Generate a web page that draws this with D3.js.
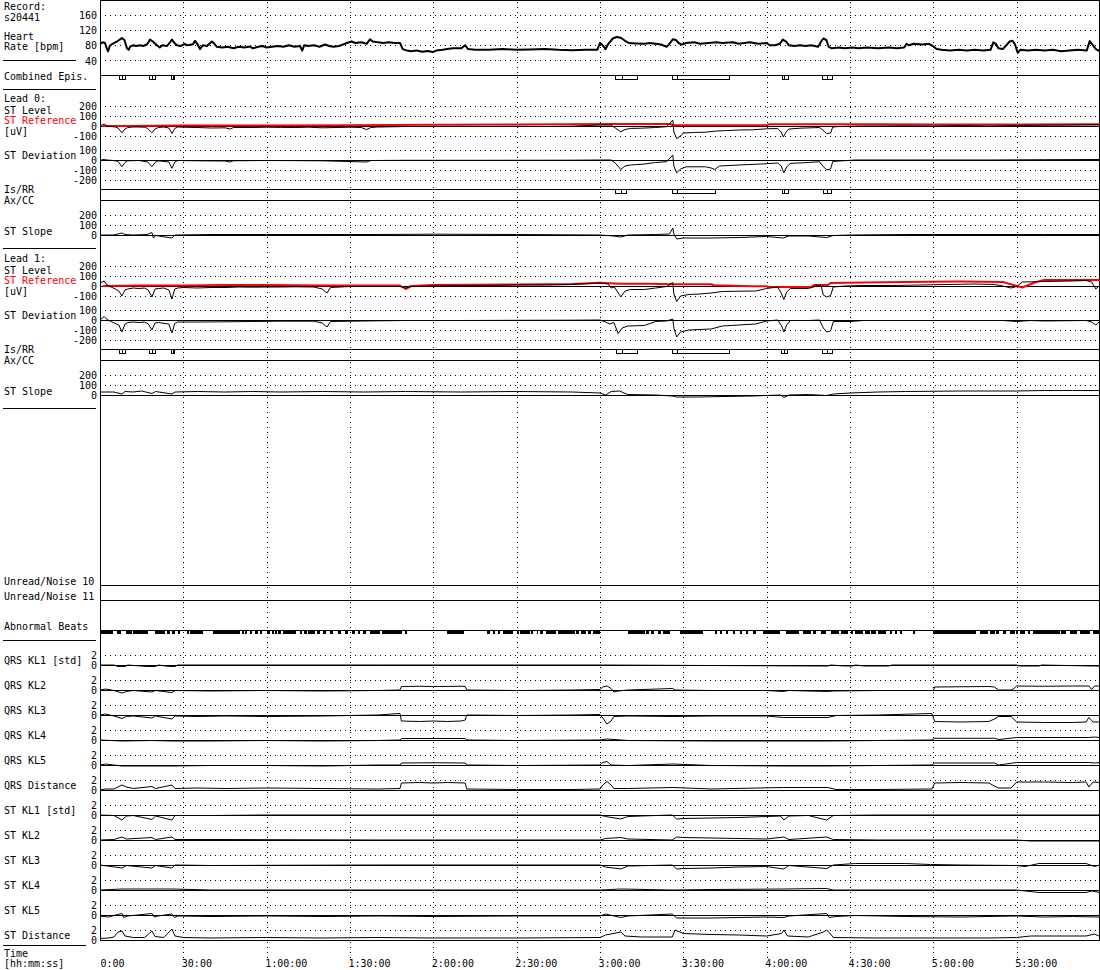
<!DOCTYPE html>
<html><head><meta charset="utf-8">
<script src="https://cdn.jsdelivr.net/npm/d3@7"></script>
<style>
body{margin:0;background:#fff;}
svg{display:block;}
text{font-family:"DejaVu Sans Mono",monospace;font-size:10px;letter-spacing:0px;fill:#000;}
</style></head><body>
<svg id="c" width="1100" height="970"></svg>
<script>
// ---------------- DATA (time in minutes) ----------------
const recordName = "s20441";
const timeTicks = [0,30,60,90,120,150,180,210,240,270,300,330];
const timeLabels = ["0:00","30:00","1:00:00","1:30:00","2:00:00","2:30:00","3:00:00","3:30:00","4:00:00","4:30:00","5:00:00","5:30:00"];
const hrTicks = [40,80,120,160];
const stLevelTicks = [-100,0,100,200];
const stDevTicks = [-200,-100,0,100];
const stSlopeTicks = [0,100,200];
const klTicks = [0,2];

const heartRate = [[0,84],[1,88],[1.8,86],[2.5,70],[2.9,64],[3.5,78],[4.5,84],[5.5,88],[6.5,92],[7.9,99],[8.8,94],[9.7,72],[10.3,68],[10.8,76],[11.9,80],[13,78],[14.4,80],[15.5,78],[16.9,82],[18,95],[19,90],[20.5,80],[21.5,74],[22.5,80],[24.1,78],[25.2,88],[25.9,95],[26.8,86],[27.7,80],[29,78],[30.5,84],[31.5,80],[33.5,83],[34.2,92],[35,84],[36,70],[37,80],[38.5,78],[40.3,90],[41.2,84],[42.1,76],[44,74],[46,76],[48,72],[50,76],[52,74],[54,77],[55,72],[57,76],[58.5,78],[60,74],[62,76],[64,78],[66,76],[68,80],[70,76],[72,78],[72.8,66],[73.5,80],[75,78],[77,80],[79,76],[81,82],[82.5,78],[84,76],[86,78],[87.5,82],[88.9,86],[90.5,90],[92,86],[94,88],[96,84],[97.2,96],[98.2,90],[100,88],[102,86],[104,88],[106,86],[108,86],[109,70],[110.5,66],[112,64],[114,66],[116,63],[118,65],[119.8,62],[121,66],[123.4,68],[125,70],[127,72],[130,72],[131.5,80],[132.5,70],[135,68],[140,68],[145,70],[150,68],[155,69],[160,70],[165,68],[170,67],[175,68],[179,68],
[180,86],[181,80],[182,70],[183,84],[184.6,98],[186,102],[187.5,100],[189,92],[190.5,86],[193,85],[196,84],[198,86],[200,84],[202,82],[204,76],[205,84],[206.2,96],[207.3,94],[208.3,86],[209.5,82],[211,86],[214,88],[216,84],[219,86],[222,88],[224,86],[227.8,88],[230,84],[233.9,88],[237,84],[240,86],[241.1,80],[243,80],[244.7,84],[245.8,95],[247,90],[248,80],[250,78],[252,80],[254,78],[256,80],[258.5,76],[259.6,90],[260.4,98],[261.5,94],[262.3,76],[263.5,72],[266,74],[268,72],[271,74],[273,72],[276,74],[280,72],[284,74],[287,72],[289.5,74],[290.4,84],[291.2,80],[293,84],[296,82],[298.5,84],[299.8,78],[301.2,70],[303,68],[306,66],[309,68],[312,66],[315,68],[318,66],[320.6,68],[321.6,88],[322.5,84],[323.4,72],[325,70],[327.5,90],[328.5,92],[329.4,82],[330.4,60],[331.3,68],[334,66],[337,68],[340,66],[343,68],[346,64],[349,66],[352,68],[355.2,66],[356.3,91],[357.5,80],[358.5,70],[360,64]];

// episodes: [start, peak, end]
const combinedEpisodes = [[6.8,7.9,9.0],[17.6,18.7,19.8],[25.6,26.1,26.8],[185.3,187.9,193.3],[205.9,207.6,226.4],[245.4,246.2,247.6],[259.8,261.6,263.4]];
const lead0Episodes = [[185.3,187.5,189.1],[205.9,207.6,221.3],[245.4,246.2,247.6],[260.2,261.6,263.1]];
const lead1Episodes = [[6.8,7.9,9.0],[17.6,18.7,19.8],[25.6,26.1,26.8],[185.6,187.9,193.3],[205.9,207.6,226.4],[245.0,246.2,247.3],[259.8,261.6,263.4]];

const lead0Level = [[0,0],[1.5,20],[2.5,0],[4,-5],[5.5,-10],[6.5,-20],[7.9,-68],[9,-30],[10,-15],[12,-10],[14,-10],[16,-12],[17.2,-25],[18.7,-68],[19.8,-30],[21,-15],[23,-10],[24.8,-20],[25.9,-75],[26.9,-25],[28,-10],[30,-12],[35,-15],[40,-20],[45,-18],[47,-30],[48,-15],[55,-15],[60,-12],[65,-14],[70,-15],[75,-12],[80,-18],[85,-15],[90,-12],[94,-15],[96,-35],[97.5,-15],[100,-10],[105,-8],[110,-5],[120,-5],[130,-3],[140,-5],[150,-3],[160,-5],[170,-2],[180,10],[184,10],[185.5,-20],[187.5,-58],[189,-35],[191,-24],[195,-22],[200,-15],[204,-7],[206.2,60],[206.6,-60],[207.6,-125],[209,-100],[210,-70],[214,-65],[218,-62],[222,-50],[226,-45],[230,-40],[235,-38],[240,-28],[244,-25],[245.2,-60],[246,-110],[247,-60],[248,-30],[252,-22],[256,-18],[259,-15],[260.2,-40],[261.6,-75],[263,-70],[263.8,-10],[266,-5],[270,-2],[275,0],[280,0],[290,2],[300,0],[310,5],[320,0],[330,5],[340,8],[350,10],[360,12]];
const lead0Reference = [[1,0],[10,0],[20,2],[30,5],[60,5],[90,8],[120,12],[150,15],[185,20],[205.5,20],[206,7],[240,7],[241,17],[280,17],[300,15],[330,15],[360,18]];
const lead0Deviation = [[0,0],[1.5,5],[2.5,0],[5,-5],[6.5,-15],[7.9,-67],[9,-25],[10,-8],[14,-5],[17.2,-20],[18.7,-67],[19.8,-25],[21,-8],[24.8,-20],[25.9,-83],[26.9,-20],[28,-5],[35,-8],[45,-10],[47,-20],[48,-8],[60,-5],[80,-8],[96,-20],[97.5,-5],[110,-3],[140,-3],[170,-2],[180,0],[184,0],[185.5,-30],[187.5,-95],[189,-60],[191,-50],[196,-40],[200,-25],[204,-17],[206.2,50],[206.6,-60],[207.6,-128],[209,-90],[211,-68],[218,-68],[220,-80],[221.3,-95],[223,-60],[230,-50],[238,-40],[244,-30],[245.2,-60],[246.2,-128],[247.2,-70],[248.5,-34],[255,-25],[259,-17],[260.2,-60],[261.6,-100],[263,-90],[263.8,-15],[266,-10],[272,0],[290,0],[320,0],[340,3],[360,5]];
const lead0Slope = [[0,0],[5,0],[7.9,20],[9,5],[12,0],[17,5],[18.7,25],[19.2,-30],[20,-5],[25.9,-30],[27,0],[40,5],[60,5],[80,5],[100,5],[120,8],[150,5],[180,0],[185,-10],[187.5,-20],[190,0],[200,5],[205,10],[206.2,70],[206.6,10],[207.6,-40],[210,-30],[220,-30],[230,-25],[240,-15],[246,-30],[248,-10],[255,-10],[261.6,-25],[264,-5],[270,0],[290,5],[320,5],[340,5],[360,5]];

const lead1Level = [[0,30],[1.5,50],[2.5,10],[4,-10],[5.5,-30],[6.8,-50],[7.9,-100],[9,-40],[10,-30],[12,-20],[14,-25],[16,-20],[17.4,-40],[18.7,-110],[19.8,-30],[21,-25],[23,-20],[24.8,-40],[25.9,-130],[26.9,-30],[28,-20],[30,-15],[35,-20],[40,-15],[45,-15],[50,-10],[55,-12],[60,-10],[65,-10],[70,-8],[77,-10],[80,-30],[81.7,-70],[83,-15],[90,-5],[100,-5],[108,-5],[110,-20],[112,-5],[120,0],[130,5],[140,5],[150,10],[160,10],[170,15],[180,30],[183,20],[184,-20],[185.2,-10],[187.5,-110],[189,-50],[191,-35],[196,-35],[200,-20],[204,-5],[206.2,35],[206.6,-80],[207.6,-155],[209,-100],[212,-85],[216,-80],[220,-70],[224,-55],[230,-52],[236,-50],[240,-25],[244,-10],[245.4,-80],[246.2,-135],[247.2,-60],[248.5,-25],[255,-25],[258,0],[259.5,10],[260.4,-90],[261.6,-110],[263,-95],[264,-10],[268,0],[275,5],[285,5],[295,10],[305,15],[315,20],[322,15],[325,0],[328,-20],[330,-5],[332,40],[340,45],[350,50],[355,55],[357,40],[358.5,-30],[360,10]];
const lead1Reference = [[1,0],[15,5],[30,5],[45,10],[60,10],[80,5],[100,5],[108,5],[110,-30],[112,0],[120,10],[150,15],[170,20],[180,33],[187,23],[198,23],[206,17],[220,17],[221,7],[235,-3],[240,-3],[241,-10],[256,-10],[257,10],[262,10],[263,30],[275,35],[290,40],[310,45],[325,40],[332,-15],[337,40],[340,60],[360,60]];
const lead1Deviation = [[0,0],[1.5,35],[2.5,5],[4,-15],[5.5,-35],[6.8,-50],[7.9,-120],[9,-40],[10,-25],[12,-20],[14,-25],[16,-20],[17.4,-40],[18.7,-100],[19.8,-30],[21,-25],[24.8,-40],[25.9,-130],[26.9,-35],[28,-20],[35,-20],[45,-18],[55,-15],[65,-12],[77,-12],[80,-30],[81.7,-70],[83,-15],[95,-10],[110,-5],[130,-5],[150,-3],[170,-2],[180,0],[182,-20],[183.5,-40],[185,-25],[186.5,-135],[188,-80],[190,-60],[196,-55],[200,-15],[204,-10],[206.2,10],[206.6,-80],[207.6,-170],[209,-120],[212,-100],[216,-95],[220,-90],[224,-60],[230,-50],[236,-40],[240,-10],[244,0],[245.4,-60],[246.2,-120],[247.2,-50],[248.5,-5],[255,-5],[259,0],[260.4,-80],[261.6,-120],[263,-110],[264,-15],[270,-15],[275,-5],[290,-5],[310,-5],[325,-5],[330,-15],[335,-5],[340,-10],[355,-5],[357,-20],[358.5,-50],[360,-10]];
const lead1Slope = [[0,30],[5,30],[7.9,10],[9,35],[12,30],[15,40],[18.7,15],[20,35],[25.9,10],[27,30],[35,35],[45,30],[55,35],[65,30],[80,35],[95,30],[110,35],[130,30],[150,35],[170,30],[180,20],[182,0],[184,35],[187,40],[190,5],[200,0],[206,-10],[207.6,-20],[215,-20],[225,-15],[235,-10],[245,0],[246.2,-25],[248,0],[255,5],[261.6,-5],[264,10],[270,20],[280,30],[290,35],[310,40],[330,40],[340,45],[350,45],[360,45]];

// abnormal beats: [start, end] minutes
const abnormalBeats = [[0,4.6],[6.0,7.4],[9.4,11.4],[12.0,17.4],[19.8,23.4],[24.0,25.2],[25.8,27.0],[28.2,28.8],[31.2,31.8],[32.4,37.2],[40.8,50.4],[51.0,51.6],[52.2,52.8],[54.0,54.6],[55.8,57.0],[57.6,58.2],[60.0,61.2],[61.8,62.4],[63.0,63.6],[64.2,65.4],[66.0,70.8],[72.0,72.6],[73.4,74.4],[75.0,77.4],[78.0,79.2],[80.4,81.6],[82.8,84.0],[85.8,87.0],[88.2,89.4],[90.6,91.8],[93.0,93.6],[94.8,96.0],[97.2,100.8],[101.4,108.6],[109.8,110.4],[124.8,130.8],[139.2,140.4],[141.6,142.2],[143.4,144.0],[145.2,148.8],[150.0,150.6],[151.2,154.8],[155.3,156.0],[157.2,157.7],[158.4,159.6],[160.7,164.3],[164.9,170.9],[171.5,172.7],[173.3,175.1],[175.7,176.9],[177.5,179.9],
[190.1,196.1],[196.7,197.9],[198.5,199.7],[200.9,202.1],[202.7,205.1],[208.7,217.1],[221.3,221.9],[223.1,223.7],[225.5,226.1],[227.9,228.5],[230.3,230.9],[232.7,233.3],[235.1,236.3],[238.7,244.7],[247.1,251.9],[253.1,256.1],[256.7,257.9],[259.7,261.5],[263.3,266.3],[266.9,269.3],[270.5,271.1],[271.7,274.7],[275.3,277.1],[277.7,279.5],[280.1,283.1],[284.3,284.9],[286.1,286.7],[287.9,288.5],[292.7,293.3],[299.9,315.5],[316.7,319.7],[320.3,322.1],[322.7,323.9],[325.1,326.3],[327.5,329.3],[329.9,330.5],[331.1,332.9],[334.1,334.7],[335.9,345.5],[346.1,347.9],[349.1,351.5],[352.7,356.3],[357.5,359.9]];

const qrsKL1 = [[0,0],[5,0],[6.5,-0.3],[9,-0.3],[10,0],[17,-0.3],[20,-0.3],[21,0],[25,-0.3],[27,-0.3],[28,0],[100,0],[180,0],[259,-0.2],[262,-0.2],[263,0],[268,-0.2],[271,-0.2],[272,0],[275,-0.2],[284,-0.2],[285,0],[330,0],[331,-0.2],[338,-0.2],[339,0],[357,-0.2],[360,-0.2]];
const qrsKL2 = [[0,0],[2,0.2],[5,-0.1],[7.9,-0.6],[9.5,-0.3],[12,-0.1],[18.7,-0.4],[20,-0.1],[25.9,-0.5],[27,-0.1],[40,-0.2],[60,-0.1],[80,-0.2],[100,-0.1],[108,0],[108.5,0.7],[115,0.75],[120,0.7],[130,0.75],[131.5,0.7],[132,0],[150,-0.1],[170,0],[180,0.1],[181,0.6],[182.5,0.8],[184,0.3],[185,-0.4],[186.5,-0.2],[190,0],[206.2,0.3],[207,0],[220,-0.1],[240,-0.1],[246,-0.3],[248,-0.1],[262,-0.3],[264,-0.2],[280,-0.1],[300,-0.1],[300.5,0.6],[310,0.65],[320,0.7],[322,0.6],[323.5,0],[328,0],[329,0.3],[330,0.8],[340,0.75],[350,0.8],[356,0.8],[357,0.1],[358,0.8],[360,0.8]];
const qrsKL3 = [[0,0],[2,0.2],[5,-0.2],[7.9,-0.7],[9.5,-0.3],[12,-0.2],[18.7,-0.6],[20,-0.2],[25.9,-0.8],[27,-0.2],[35,-0.3],[45,-0.2],[60,-0.3],[80,-0.2],[100,0],[105,0.2],[108,0.3],[108.5,-1.2],[115,-1.3],[120,-1.2],[125,-1.3],[130,-1.2],[131.5,-1.0],[132,0],[150,-0.1],[170,0],[180,0.1],[181,-0.6],[182.5,-1.8],[184,-1.2],[185,-0.3],[190,-0.2],[206.2,-0.3],[220,-0.2],[240,-0.2],[246,-0.5],[262,-0.5],[265,-0.1],[280,0],[293,0.2],[299.5,0.3],[300.5,-1.3],[310,-1.4],[320,-1.3],[322,-0.8],[323.5,-0.3],[328,-0.3],[330,-1.4],[340,-1.5],[350,-1.5],[355,-1.4],[356,-0.5],[357.5,-1.4],[360,-1.4]];
const qrsKL4 = [[0,0],[7.9,-0.2],[18.7,-0.1],[25.9,-0.2],[40,-0.2],[60,-0.1],[80,-0.2],[100,-0.1],[108,0],[108.5,0.3],[131.5,0.3],[132,0],[150,-0.1],[180,0],[182.5,0.2],[190,-0.1],[220,-0.2],[246,-0.2],[262,-0.2],[280,-0.1],[299.5,0],[300.5,0.35],[322,0.35],[323.5,0.1],[330,0.5],[356,0.5],[358,0.6],[360,0.5]];
const qrsKL5 = [[0,0],[2,0.2],[7.9,-0.2],[18.7,-0.2],[25.9,-0.2],[40,-0.1],[60,-0.1],[80,-0.2],[100,0],[108,0],[108.5,0.4],[120,0.45],[131.5,0.4],[132,0],[150,-0.1],[180,0],[181,0.5],[182.5,0.7],[184,0],[190,-0.1],[206.2,0.2],[220,-0.1],[246,-0.2],[262,-0.2],[280,-0.1],[299.5,0],[300.5,0.4],[322,0.4],[323.5,0],[330,0.5],[356,0.5],[358,0.4],[360,0.5]];
const qrsDistance = [[0,0],[2,0.2],[5,0.2],[7.9,1.0],[9.5,0.6],[12,0.3],[18.7,0.7],[20,0.3],[25.9,1.0],[27,0.3],[35,0.4],[45,0.3],[60,0.4],[80,0.3],[100,0.2],[108,0.3],[108.5,1.4],[115,1.5],[120,1.4],[125,1.5],[131.5,1.4],[132,0.2],[150,0.1],[170,0.1],[180,0.2],[181,1.0],[182.5,1.7],[184,1.0],[185,0.3],[190,0.3],[206.2,0.5],[220,0.2],[246,0.5],[262,0.5],[265,0.1],[280,0.1],[299.5,0.2],[300.5,1.4],[310,1.5],[320,1.4],[322,0.8],[323.5,0.4],[328,0.4],[330,1.6],[340,1.6],[350,1.5],[355,1.6],[356,0.6],[357.5,1.6],[360,1.5]];
const stKL1 = [[0,0],[5,-0.1],[7.9,-1.0],[9.5,-0.2],[12,-0.1],[18.7,-0.9],[20,-0.2],[25.9,-1.0],[27,-0.1],[40,-0.1],[60,0],[100,0],[150,0],[180,0],[182,-0.3],[187.5,-0.8],[190,-0.3],[200,-0.1],[206,0],[207.6,-0.8],[210,-0.7],[220,-0.6],[230,-0.5],[240,-0.3],[245,-0.2],[246.2,-1.0],[248,-0.2],[255,-0.1],[261.6,-1.0],[264,-0.1],[280,0],[320,0],[360,0]];
const stKL2 = [[0,0],[5,0.1],[7.9,0.6],[9.5,0.2],[18.7,0.5],[20,0.1],[25.9,0.6],[27,0.1],[40,0.1],[100,0],[180,0],[182,0.3],[187.5,0.5],[190,0.2],[206,0],[207.6,0.6],[210,0.5],[220,0.4],[230,0.3],[240,0.2],[246.2,0.6],[248,0.1],[261.6,0.6],[264,0.1],[280,0],[330,0],[335,-0.2],[340,-0.2],[360,-0.2]];
const stKL3 = [[0,0],[7.9,-0.6],[9.5,-0.1],[18.7,-0.6],[20,-0.1],[25.9,-0.6],[27,0],[40,-0.1],[100,0],[180,0],[182,-0.4],[187.5,-0.8],[190,-0.2],[206,0],[207.6,-0.8],[210,-0.7],[220,-0.6],[230,-0.4],[240,-0.3],[246.2,-0.8],[248,-0.1],[261.6,-0.7],[264,0],[272,0.3],[290,0.3],[299,0.1],[310,0],[330,-0.1],[333,-0.3],[338,0.3],[355,0.3],[358,-0.3],[360,0]];
const stKL4 = [[0,0],[7.9,0.2],[18.7,0.2],[25.9,0.2],[40,0],[100,0],[180,0],[187.5,0.2],[206,0],[220,0.1],[246.2,0.2],[261.6,0.3],[264,0],[280,0],[330,0],[338,-0.5],[355,-0.5],[357,-0.2],[360,-0.5]];
const stKL5 = [[0,-0.2],[3,-0.4],[5,-0.1],[7.9,0.3],[8.5,-0.5],[10,-0.2],[18.7,0.3],[19.5,-0.4],[21,-0.2],[25.9,0.2],[26.8,-0.5],[28,-0.2],[40,-0.3],[60,-0.2],[80,-0.3],[100,-0.2],[120,-0.3],[150,-0.2],[180,-0.2],[182,0.2],[187.5,-0.5],[190,-0.2],[206,0.2],[207.6,-0.6],[212,-0.6],[220,-0.6],[230,-0.5],[240,-0.4],[246.2,-0.5],[248,-0.2],[261.6,0.3],[262.5,-0.5],[265,-0.3],[272,-0.1],[290,-0.3],[310,-0.4],[320,-0.3],[330,-0.2],[340,-0.4],[350,-0.3],[360,-0.4]];
const stDistance = [[0,0.3],[3,0.4],[5,0.6],[6.5,1.6],[7.9,1.8],[9,0.8],[12,0.5],[16,0.5],[17.5,1.2],[18.7,1.8],[19.8,0.7],[23,0.5],[25.9,2.2],[27,0.8],[30,0.5],[40,0.4],[60,0.5],[80,0.4],[100,0.5],[120,0.4],[150,0.4],[180,0.5],[182,1.0],[187.5,1.6],[189,0.8],[195,0.6],[206,0.6],[207,2.0],[210,1.3],[220,1.1],[230,1.0],[240,0.8],[245.4,1.3],[246.2,2.0],[247.5,0.8],[255,0.6],[260.4,1.6],[261.6,2.0],[263,1.2],[264,0.5],[280,0.4],[300,0.4],[320,0.4],[330,0.5],[335,0.8],[340,0.8],[355,0.8],[358,1.2],[360,0.7]];

const klNames = ["QRS KL1 [std]","QRS KL2","QRS KL3","QRS KL4","QRS KL5","QRS Distance","ST KL1 [std]","ST KL2","ST KL3","ST KL4","ST KL5","ST Distance"];
const klSeries = [qrsKL1,qrsKL2,qrsKL3,qrsKL4,qrsKL5,qrsDistance,stKL1,stKL2,stKL3,stKL4,stKL5,stDistance];

// ---------------- LAYOUT / DRAWING ----------------
const L = 100, R = 1099, BOTTOM = 940;
const svg = d3.select('#c');
const x = d3.scaleLinear().domain([0,360]).range([100,1100]);

const gGrid = svg.append('g').attr('shape-rendering','crispEdges');
const gLines = svg.append('g').attr('shape-rendering','crispEdges');
const gTrace = svg.append('g');
const gText = svg.append('g');

function hline(y, x1, x2, dotted, g){
  (g||gLines).append('line').attr('x1',x1).attr('x2',x2).attr('y1',y).attr('y2',y)
    .attr('stroke','#000').attr('stroke-width',1)
    .attr('stroke-dasharray', dotted ? '1,4' : null);
}
function label(t, y, xx, color){
  gText.append('text').attr('x', xx==null?4:xx).attr('y', y).style('fill',color||'#000').text(t);
}
function axis(scale, ticks){
  const g = gText.append('g').attr('transform','translate(100,0)')
    .call(d3.axisLeft(scale).tickValues(ticks).tickSize(0).tickPadding(3).tickFormat(d=>String(d)));
  g.select('.domain').remove();
  g.selectAll('text').attr('dy','0.36em');
}
function grid(scale, ticks, solidZero){
  ticks.forEach(t=>{
    const y = Math.round(scale(t))+0.5;
    if (t===0 && solidZero) hline(y, L, R, false);
    else hline(y, L, R, true, gGrid);
  });
}
function trace(data, scale, color, width){
  const line = d3.line().x(d=>x(d[0])).y(d=>scale(d[1]));
  gTrace.append('path').datum(data).attr('d', line).attr('fill','none')
    .attr('stroke', color||'#000').attr('stroke-width', width||1).attr('stroke-linejoin','round');
}
function episodes(list, baseY){
  hline(baseY, L, R, false);
  list.forEach(e=>{
    gLines.append('rect').attr('x', Math.round(x(e[0]))+0.5).attr('y', baseY)
      .attr('width', Math.max(2, Math.round(x(e[2])-x(e[0])))).attr('height',3.5)
      .attr('fill','#fff').attr('stroke','#000').attr('stroke-width',1);
    gLines.append('line').attr('x1', Math.round(x(e[1]))+0.5).attr('x2', Math.round(x(e[1]))+0.5)
      .attr('y1', baseY).attr('y2', baseY+4).attr('stroke','#000');
  });
}

// vertical time grid
timeTicks.filter(t=>t>0).forEach(t=>{
  const xx = Math.round(x(t))+0.5;
  gGrid.append('line').attr('x1',xx).attr('x2',xx).attr('y1',2).attr('y2',958)
    .attr('stroke','#000').attr('stroke-dasharray','1,4');
});

// Heart rate panel
const yHR = d3.scaleLinear().domain([0,200]).range([75.5,0]);
grid(yHR, hrTicks, false);
axis(yHR, hrTicks);
trace(heartRate, yHR, '#000', 2);
label('Record:',10); label(recordName,20.5); label('Heart',39.5); label('Rate [bpm]',50);
hline(60.5, 3, 76, false);

// Combined episodes
episodes(combinedEpisodes, 75.5);
label('Combined Epis.',80);
hline(89.5, 3, 96, false);

// Lead panels
function leadPanel(off, n, level, ref, dev, slope, eps){
  const yLev = d3.scaleLinear().domain([0,100]).range([126+off, 116+off]);
  const yDev = d3.scaleLinear().domain([0,100]).range([160+off, 150+off]);
  const ySl = d3.scaleLinear().domain([0,100]).range([235+off, 225+off]);
  grid(yLev, stLevelTicks, true); axis(yLev, stLevelTicks);
  grid(yDev, stDevTicks, true); axis(yDev, stDevTicks);
  grid(ySl, stSlopeTicks, true); axis(ySl, stSlopeTicks);
  trace(ref, yLev, '#ff0000', 2);
  trace(level, yLev, '#000', 1);
  trace(dev, yDev, '#000', 1);
  trace(slope, ySl, '#000', 1);
  episodes(eps, 189.5+off);
  hline(200.5+off, L, R, false);
  label('Lead '+n+':',102+off); label('ST Level',113.5+off);
  label('ST Reference',124+off,null,'#ff0000'); label('[uV]',134.5+off);
  label('ST Deviation',159+off); label('Is/RR',193+off); label('Ax/CC',204+off);
  label('ST Slope',235+off);
  hline(248.5+off, 3, 96, false);
}
leadPanel(0, 0, lead0Level, lead0Reference, lead0Deviation, lead0Slope, lead0Episodes);
leadPanel(160, 1, lead1Level, lead1Reference, lead1Deviation, lead1Slope, lead1Episodes);

// noise + abnormal beats
hline(585.5, L, R, false); label('Unread/Noise 10',585);
hline(600.5, L, R, false); label('Unread/Noise 11',600);
hline(630.5, L, R, false); label('Abnormal Beats',630);
abnormalBeats.forEach(b=>{
  gLines.append('rect').attr('x', Math.round(x(b[0]))).attr('y',630)
    .attr('width', Math.max(1, Math.round(x(b[1])-x(b[0])))).attr('height',4).attr('fill','#000');
});
hline(640.5, 3, 96, false);

// KL panels
klSeries.forEach((s,i)=>{
  const z = 665 + 25*i;
  const y = d3.scaleLinear().domain([0,2]).range([z, z-10]);
  grid(y, klTicks, true);
  axis(y, klTicks);
  trace(s, y, '#000', 1);
  label(klNames[i], 664+25*i);
});
hline(945.5, 3, 86, false);

// borders
gLines.append('rect').attr('x',100.5).attr('y',0.5).attr('width',R-100).attr('height',BOTTOM-0.5)
  .attr('fill','none').attr('stroke','#000');

// time axis
const ga = gText.append('g').attr('transform','translate(0,958)')
  .call(d3.axisBottom(x).tickValues(timeTicks).tickSize(0).tickFormat((d,i)=>timeLabels[i]));
ga.select('.domain').remove();
ga.selectAll('text').attr('text-anchor','start').attr('x', d=> d===0?0:-2).attr('y',9).attr('dy',0);
label('Time',957); label('[hh:mm:ss]',967);
</script></body></html>
